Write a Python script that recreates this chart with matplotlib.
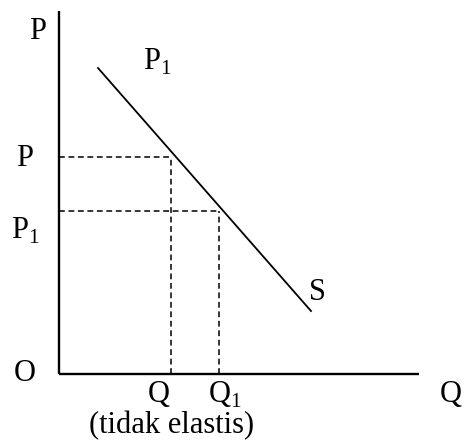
import matplotlib.pyplot as plt

plt.rcParams['font.family'] = ['Liberation Serif', 'DejaVu Serif']
plt.rcParams['mathtext.fontset'] = 'custom'
plt.rcParams['mathtext.rm'] = 'Liberation Serif'

# Kurva S (dua titik ujung)
s_x = [39, 252]
s_y = [306, 63]
# Titik harga & kuantitas
q_vals = [112, 160]
p_vals = [217, 163]
x_max = 360
y_max = 363

fig = plt.figure(figsize=(4.65, 4.48), dpi=100)
ax = fig.add_axes([0, 0, 1, 1])
ax.set_xlim(-59, 406)
ax.set_ylim(-74, 374)
ax.axis('off')

# sumbu
ax.plot([0, 0], [0, y_max], color='black', lw=1.7, solid_capstyle='butt')
ax.plot([0, x_max], [0, 0], color='black', lw=1.7, solid_capstyle='butt')

# kurva
ax.plot(s_x, s_y, color='black', lw=1.3)

# garis putus-putus
for q, p in zip(q_vals, p_vals):
    ax.plot([0, q], [p, p], color='black', lw=1.1, dashes=(3.8, 2.4))
    ax.plot([q, q], [0, p], color='black', lw=1.1, dashes=(3.8, 2.4))

fs = 22
ax.text(-21, 343, 'P', fontsize=fs, ha='center', va='center')
ax.text(98, 312, r'$\mathrm{P}_1$', fontsize=fs, ha='center', va='center')
ax.text(-34, 216, 'P', fontsize=fs, ha='center', va='center')
ax.text(-34, 143, r'$\mathrm{P}_1$', fontsize=fs, ha='center', va='center')
ax.text(258, 82, 'S', fontsize=fs, ha='center', va='center')
ax.text(-34, 1, 'O', fontsize=fs, ha='center', va='center')
ax.text(q_vals[0] - 12, -20, 'Q', fontsize=fs, ha='center', va='center')
ax.text(q_vals[1] + 6, -21, r'$\mathrm{Q}_1$', fontsize=fs, ha='center', va='center')
ax.text(392, -20, 'Q', fontsize=fs, ha='center', va='center')
ax.text(113, -52, '(tidak elastis)', fontsize=fs, ha='center', va='center')

fig.savefig('out.png', dpi=100)
